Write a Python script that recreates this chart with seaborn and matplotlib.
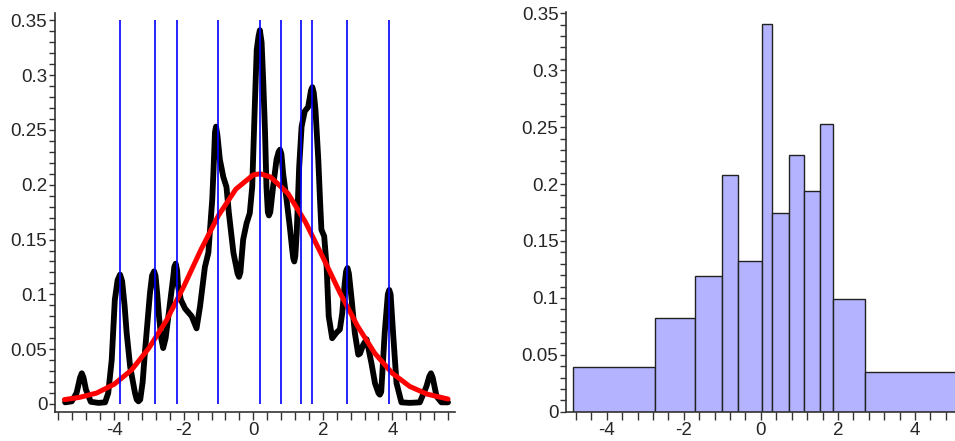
import numpy as np
import matplotlib
matplotlib.use("Agg")
import matplotlib.pyplot as plt
from matplotlib.ticker import MultipleLocator, FuncFormatter
import seaborn as sns

# left panel: density estimate (black), fitted normal (red), cut points (blue)
kde_x = [-5.41, -5.22, -5.08, -4.98, -4.93, -4.88, -4.81, -4.67, -4.45, -4.26,
         -4.17, -4.07, -3.98, -3.90, -3.83, -3.77, -3.70, -3.64, -3.54, -3.40,
         -3.35, -3.30, -3.25, -3.18, -3.11, -2.97, -2.91, -2.85, -2.81, -2.76,
         -2.71, -2.64, -2.59, -2.52, -2.44, -2.30, -2.27, -2.23, -2.19, -2.16,
         -2.08, -1.96, -1.77, -1.63, -1.53, -1.39, -1.29, -1.25, -1.18, -1.14,
         -1.10, -1.07, -1.03, -0.96, -0.86, -0.77, -0.70, -0.57, -0.45, -0.41,
         -0.37, -0.29, -0.19, -0.10, -0.03, 0.05, 0.10, 0.15, 0.19, 0.24,
         0.29, 0.34, 0.38, 0.42, 0.45, 0.49, 0.57, 0.67, 0.73, 0.77,
         0.81, 0.86, 0.96, 1.05, 1.12, 1.15, 1.18, 1.21, 1.25, 1.32,
         1.39, 1.48, 1.58, 1.66, 1.70, 1.74, 1.79, 1.87, 1.92, 1.96,
         2.04, 2.11, 2.17, 2.27, 2.39, 2.49, 2.56, 2.63, 2.67, 2.71,
         2.75, 2.83, 2.92, 3.02, 3.07, 3.16, 3.26, 3.40, 3.50, 3.60,
         3.64, 3.68, 3.78, 3.87, 3.91, 3.95, 4.02, 4.12, 4.26, 4.50,
         4.79, 4.98, 5.06, 5.11, 5.16, 5.27, 5.41, 5.60]
kde_y = [0.0015, 0.0024, 0.010, 0.024, 0.028, 0.024, 0.013, 0.002, 0.001, 0.0015,
         0.010, 0.040, 0.095, 0.113, 0.118, 0.112, 0.090, 0.065, 0.034, 0.010,
         0.004, 0.0024, 0.004, 0.020, 0.049, 0.101, 0.117, 0.121, 0.117, 0.100,
         0.080, 0.059, 0.051, 0.060, 0.080, 0.116, 0.125, 0.128, 0.122, 0.107,
         0.095, 0.087, 0.080, 0.069, 0.089, 0.125, 0.138, 0.156, 0.186, 0.215,
         0.248, 0.253, 0.245, 0.223, 0.207, 0.198, 0.174, 0.138, 0.119, 0.116,
         0.120, 0.150, 0.165, 0.174, 0.198, 0.277, 0.323, 0.335, 0.341, 0.330,
         0.292, 0.247, 0.198, 0.175, 0.172, 0.175, 0.198, 0.223, 0.230, 0.232,
         0.228, 0.210, 0.186, 0.162, 0.141, 0.133, 0.130, 0.135, 0.156, 0.216,
         0.253, 0.267, 0.271, 0.286, 0.289, 0.284, 0.268, 0.223, 0.186, 0.159,
         0.153, 0.125, 0.080, 0.060, 0.065, 0.068, 0.083, 0.110, 0.121, 0.124,
         0.119, 0.095, 0.065, 0.045, 0.046, 0.054, 0.059, 0.037, 0.019, 0.010,
         0.0085, 0.011, 0.065, 0.100, 0.104, 0.100, 0.065, 0.019, 0.0015, 0.001,
         0.0015, 0.016, 0.025, 0.028, 0.024, 0.007, 0.0015, 0.0015]

normal_x = [-5.43, -5.0, -4.5, -4.0, -3.5, -3.0, -2.5, -2.0, -1.5, -1.0, -0.5,
            0.0, 0.2, 0.5, 1.0, 1.5, 2.0, 2.5, 3.0, 3.5, 4.0, 4.5, 5.0, 5.6]
normal_y = [0.004, 0.006, 0.010, 0.018, 0.031, 0.051, 0.076, 0.107, 0.141, 0.172, 0.196,
            0.209, 0.210, 0.207, 0.192, 0.166, 0.134, 0.101, 0.071, 0.046, 0.028, 0.016, 0.009, 0.0045]

cut_x = [-3.83, -2.82, -2.20, -1.02, 0.19, 0.81, 1.38, 1.70, 2.71, 3.90]
cut_top = 0.35

# right panel: histogram with unequal bins
bin_edges = [-4.89, -2.75, -1.71, -1.02, -0.60, 0.02, 0.28, 0.73, 1.12, 1.54, 1.86, 2.71, 5.2]
bar_heights = [0.0393, 0.0821, 0.119, 0.208, 0.132, 0.341, 0.175, 0.2256, 0.194, 0.253, 0.0993, 0.0349]

sns.set_style("ticks")
plt.rcParams["font.family"] = ["Liberation Sans", "DejaVu Sans"]
plt.rcParams["axes.unicode_minus"] = False

fig = plt.figure(figsize=(9.55, 4.41), dpi=100)
ax1 = fig.add_axes([0.0576, 0.0658, 0.4188, 0.9048])
ax2 = fig.add_axes([0.5927, 0.0664, 0.4073, 0.907])

sns.lineplot(x=kde_x, y=kde_y, ax=ax1, color="black", lw=4.2, sort=False)
sns.lineplot(x=normal_x, y=normal_y, ax=ax1, color="#ff0000", lw=3.6, sort=False)
ax1.vlines(cut_x, 0, cut_top, color="#0000ff", lw=1.2)
ax1.set_xlim(-5.70, 5.80)
ax1.set_ylim(-0.0073, 0.3567)

sns.histplot(x=bin_edges[:-1], weights=bar_heights, bins=bin_edges, ax=ax2,
             stat="count", color="#b3b3ff", edgecolor="#222222", linewidth=1.0, alpha=1)
ax2.set_xlim(-5.06, 5.04)
ax2.set_ylim(0, 0.3514)

fmt = FuncFormatter(lambda v, p: "%g" % round(v, 4))
for ax in (ax1, ax2):
    ax.set_xlabel("")
    ax.set_ylabel("")
    ax.xaxis.set_major_locator(MultipleLocator(2))
    ax.xaxis.set_minor_locator(MultipleLocator(0.4))
    ax.yaxis.set_major_locator(MultipleLocator(0.05))
    ax.yaxis.set_minor_locator(MultipleLocator(0.01))
    ax.xaxis.set_major_formatter(fmt)
    ax.yaxis.set_major_formatter(fmt)
    ax.tick_params(axis="x", which="both", length=5.5, width=1, direction="out",
                   color="#333333", labelsize=13.5, pad=2)
    ax.tick_params(axis="y", which="major", length=4.5, width=1, direction="out",
                   color="#333333", labelsize=13.5, pad=1)
    ax.tick_params(axis="y", which="minor", length=4, width=1, direction="out", color="#333333")
    for side in ("top", "right"):
        ax.spines[side].set_visible(False)
    for side in ("left", "bottom"):
        ax.spines[side].set_color("#333333")
        ax.spines[side].set_linewidth(1.2)

fig.savefig("out.png", dpi=100)
